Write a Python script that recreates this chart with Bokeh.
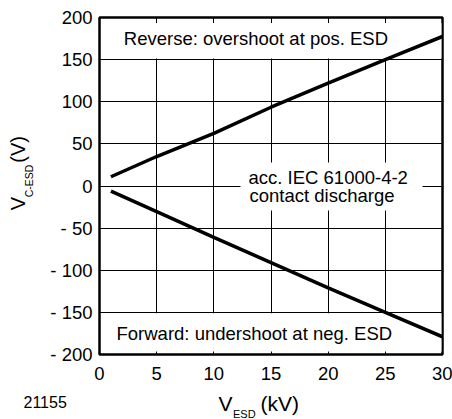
import numpy as np
from bokeh.plotting import figure
from bokeh.models import Label, FixedTicker, Range1d, BoxAnnotation
from bokeh.layouts import row, column
from bokeh.core.properties import value
from bokeh.embed import file_html
from bokeh.resources import INLINE

# ---- data ----
v_esd = [1, 5, 10, 15, 20, 25, 30]
reverse_vc = [11, 35, 62.5, 93.5, 122, 150, 177.5]
forward_vc = [-6, -30.5, -61, -91, -121, -150, -179]

x_ticks = [0, 5, 10, 15, 20, 25, 30]
y_ticks = [-200, -150, -100, -50, 0, 50, 100, 150, 200]
y_tick_labels = {v: ("- %d" % (-v) if v < 0 else str(v)) for v in y_ticks}

reverse_note = "Reverse: overshoot at pos. ESD"
forward_note = "Forward: undershoot at neg. ESD"
middle_note_1 = "acc. IEC 61000-4-2"
middle_note_2 = "contact discharge"
x_title = ["V", "ESD", "(kV)"]
y_title = ["V", "C-ESD", "(V)"]
figure_id = "21155"

FONT = "Liberation Sans"
MID = 0.36   # text anchors sit at the middle of the capitals: baseline - MID * size

# ---- layout (page pixels) ----
LEFT_W = 40                 # strip holding the y title
FL, FT = 99, 17             # frame left / top on the page
FW, FH = 343, 337           # frame size
BR, BB = 10, 36             # right / bottom borders of the main figure
MAIN_W = (FL - LEFT_W) + FW + BR
MAIN_H = FT + FH + BB
PAGE_W, PAGE_H = 452, 419
BOT_H = PAGE_H - MAIN_H

X0, X1, Y0, Y1 = 0, 30, -200, 200

p = figure(width=MAIN_W, height=MAIN_H, title=None,
           frame_width=FW, frame_height=FH,
           x_range=Range1d(X0, X1), y_range=Range1d(Y0, Y1),
           output_backend="svg", toolbar_location=None,
           min_border_left=FL - LEFT_W, min_border_right=BR,
           min_border_top=FT, min_border_bottom=BB)

p.background_fill_color = "white"
p.border_fill_color = "white"
p.outline_line_color = "black"
p.outline_line_width = 2.5

for ax, ticks in ((p.xaxis, x_ticks), (p.yaxis, y_ticks)):
    ax.ticker = FixedTicker(ticks=ticks)
    ax.major_tick_in = 0
    ax.major_tick_out = 0
    ax.minor_tick_line_color = None
    ax.axis_line_color = None
    ax.major_label_text_font = FONT
    ax.major_label_text_font_size = "18.5px"
    ax.major_label_text_color = "black"
p.xaxis.major_label_standoff = 12
p.yaxis.major_label_standoff = 7
p.yaxis.major_label_overrides = y_tick_labels

p.xgrid.ticker = FixedTicker(ticks=x_ticks)
p.ygrid.ticker = FixedTicker(ticks=y_ticks)
for g in (p.xgrid, p.ygrid):
    g.grid_line_color = "black"
    g.grid_line_width = 1
    g.grid_line_alpha = 1.0


# page pixels -> data positions (for the in-frame notes)
def dx(px):
    return X0 + (px - FL) * (X1 - X0) / FW


def dy(py):
    return Y1 - (py - FT) * (Y1 - Y0) / FH


# white areas behind the notes (hide the grid there, below the curves)
def blank(x_left, x_right, y_top, y_bottom):
    p.add_layout(BoxAnnotation(left=dx(x_left), right=dx(x_right),
                               top=dy(y_top), bottom=dy(y_bottom),
                               fill_color="white", fill_alpha=1.0,
                               line_color=None, level="underlay"))


blank(100.5, 441, 22.5, 58)
blank(100.5, 441, 312.8, 351)
blank(240, 422, 162, 210)

NOTE_SIZE = 18.5


def note(px, baseline, text):
    p.add_layout(Label(x=dx(px), y=dy(baseline - MID * NOTE_SIZE), text=text,
                       text_font=FONT, text_font_size="%gpx" % NOTE_SIZE,
                       text_color="black",
                       text_baseline="alphabetic", text_align="left"))


note(123.3, 44.3, reverse_note)
note(116, 339.3, forward_note)
note(248, 184, middle_note_1)
note(249, 201.7, middle_note_2)

# curves
p.line(v_esd, reverse_vc, line_width=3.5, line_color="black")
p.line(v_esd, forward_vc, line_width=3.5, line_color="black")


# ---- strips for the axis titles (texts in strip pixel coordinates) ----
def strip(w, h):
    s = figure(width=w, height=h, title=None,
               x_range=Range1d(0, w), y_range=Range1d(0, h),
               output_backend="svg", toolbar_location=None,
               x_axis_location=None, y_axis_location=None,
               min_border=0, min_border_left=0, min_border_right=0,
               min_border_top=0, min_border_bottom=0)
    s.xgrid.visible = False
    s.ygrid.visible = False
    s.outline_line_color = None
    s.background_fill_color = "white"
    s.border_fill_color = "white"
    return s


def txt_h(s, h, x, baseline, t, size):
    s.text(x=[x], y=[h - (baseline - MID * size)], text=[t], text_font=value(FONT),
           text_font_size=value("%gpx" % size), text_color="black",
           text_align="left", text_baseline="alphabetic")


def txt_v(s, h, baseline_x, start_y, t, size):
    s.text(x=[baseline_x - MID * size], y=[h - start_y], text=[t], text_font=value(FONT),
           text_font_size=value("%gpx" % size), text_color="black",
           text_align="left", text_baseline="alphabetic", angle=np.pi / 2)


left = strip(LEFT_W, MAIN_H)
txt_v(left, MAIN_H, 25, 223, y_title[0], 20)
txt_v(left, MAIN_H, 32.5, 208, y_title[1], 10.5)
txt_v(left, MAIN_H, 25, 168, y_title[2], 20)

bottom = strip(PAGE_W, BOT_H)
oy = MAIN_H
txt_h(bottom, BOT_H, 218, 411 - oy, x_title[0], 21)
txt_h(bottom, BOT_H, 232.5, 417 - oy, x_title[1], 11)
txt_h(bottom, BOT_H, 260, 411 - oy, x_title[2], 21)
txt_h(bottom, BOT_H, 23, 407 - oy, figure_id, 16)

layout = column(row(left, p), bottom)

open("out.html", "w").write(file_html(layout, INLINE))
